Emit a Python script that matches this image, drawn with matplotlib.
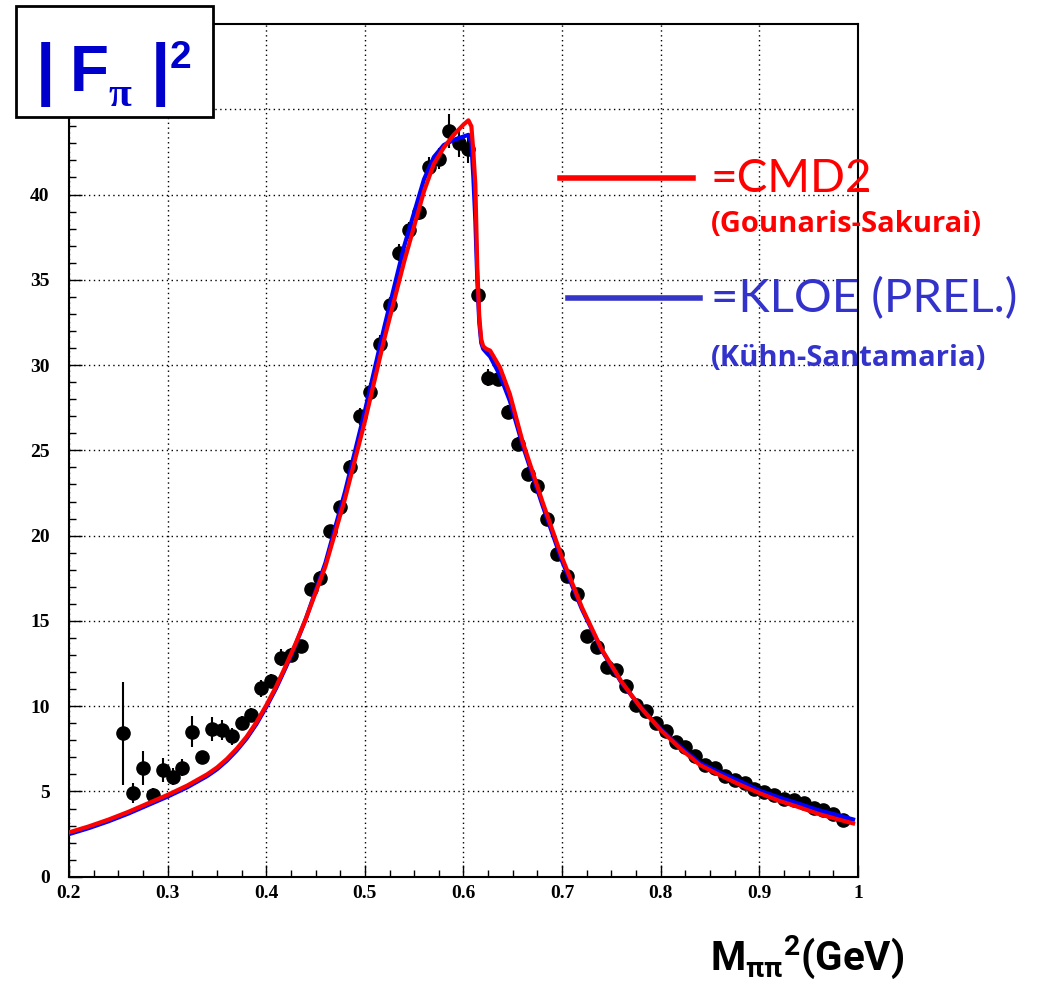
import matplotlib
matplotlib.use("Agg")
import matplotlib.pyplot as plt
from matplotlib.patches import Rectangle
from matplotlib.lines import Line2D
from matplotlib.ticker import MultipleLocator

# measured points
x_data = [0.255, 0.265, 0.275, 0.285, 0.295, 0.305, 0.315, 0.325, 0.335, 0.345,
          0.355, 0.365, 0.375, 0.385, 0.395, 0.405, 0.415, 0.425, 0.435, 0.445,
          0.455, 0.465, 0.475, 0.485, 0.495, 0.505, 0.515, 0.525, 0.535, 0.545,
          0.555, 0.565, 0.575, 0.585, 0.595, 0.605, 0.615, 0.625, 0.635, 0.645,
          0.655, 0.665, 0.675, 0.685, 0.695, 0.705, 0.715, 0.725, 0.735, 0.745,
          0.755, 0.765, 0.775, 0.785, 0.795, 0.805, 0.815, 0.825, 0.835, 0.845,
          0.855, 0.865, 0.875, 0.885, 0.895, 0.905, 0.915, 0.925, 0.935, 0.945,
          0.955, 0.965, 0.975, 0.985]
y_data = [8.4, 4.9, 6.4, 4.8, 6.25, 5.85, 6.4, 8.5, 7.0, 8.65,
          8.6, 8.25, 9.0, 9.5, 11.05, 11.5, 12.85, 13.0, 13.5, 16.85,
          17.5, 20.25, 21.65, 24.05, 27.0, 28.45, 31.25, 33.5, 36.6, 37.9,
          39.0, 41.6, 42.1, 43.7, 43.0, 42.65, 34.1, 29.25, 29.2, 27.25,
          25.4, 23.6, 22.9, 20.95, 18.95, 17.65, 16.55, 14.1, 13.45, 12.3,
          12.15, 11.2, 10.05, 9.7, 9.0, 8.55, 7.9, 7.6, 7.05, 6.55,
          6.35, 5.9, 5.7, 5.5, 5.15, 4.95, 4.8, 4.55, 4.5, 4.3,
          4.05, 3.9, 3.65, 3.3]
y_err = [3.0, 0.6, 1.0, 0.4, 0.7, 0.5, 0.5, 0.9, 0.4, 0.7,
         0.6, 0.5, 0.4, 0.4, 0.5, 0.4, 0.5, 0.4, 0.3, 0.4,
         0.4, 0.4, 0.4, 0.4, 0.5, 0.5, 0.5, 0.5, 0.5, 0.5,
         0.5, 0.6, 0.6, 1.0, 0.8, 0.8, 0.3, 0.5, 0.4, 0.4,
         0.4, 0.4, 0.4, 0.4, 0.4, 0.4, 0.3, 0.3, 0.3, 0.3,
         0.3, 0.3, 0.2, 0.2, 0.2, 0.2, 0.2, 0.2, 0.2, 0.2,
         0.2, 0.2, 0.2, 0.2, 0.2, 0.2, 0.2, 0.2, 0.2, 0.2,
         0.2, 0.2, 0.2, 0.2]

# fit curves
x_curve = [0.20, 0.22, 0.24, 0.26, 0.28, 0.30, 0.32, 0.34, 0.35, 0.36, 0.37,
           0.38, 0.39, 0.40, 0.41, 0.42, 0.43, 0.44, 0.46, 0.48, 0.50, 0.52,
           0.54, 0.56, 0.57, 0.58, 0.59, 0.60, 0.605, 0.608, 0.610, 0.612,
           0.614, 0.616, 0.618, 0.620, 0.623, 0.627, 0.637, 0.647, 0.66, 0.68,
           0.70, 0.72, 0.74, 0.76, 0.78, 0.80, 0.82, 0.84, 0.86, 0.88, 0.90,
           0.92, 0.94, 0.96, 0.98, 0.995]
cmd2 = [2.6, 2.95, 3.35, 3.8, 4.3, 4.8, 5.35, 6.0, 6.4, 6.9, 7.5,
        8.2, 9.05, 10.05, 11.15, 12.4, 13.7, 15.1, 18.2, 22.2, 26.7, 31.6,
        36.1, 40.2, 41.8, 42.75, 43.5, 44.1, 44.35, 44.0, 42.5, 40.6,
        35.7, 32.8, 31.5, 31.1, 30.95, 30.85, 29.86, 28.3, 25.5, 22.0,
        18.7, 15.8, 13.35, 11.45, 9.9, 8.6, 7.5, 6.54, 5.95, 5.4, 4.9,
        4.45, 4.08, 3.68, 3.36, 3.13]
kloe = [2.5, 2.85, 3.25, 3.7, 4.2, 4.7, 5.25, 5.9, 6.3, 6.8, 7.4,
        8.1, 8.95, 9.95, 11.05, 12.3, 13.65, 15.1, 18.4, 22.6, 27.3, 32.3,
        37.0, 40.9, 42.2, 42.9, 43.2, 43.4, 43.5, 43.0, 41.0, 38.5,
        35.0, 32.5, 31.3, 30.95, 30.75, 30.5, 29.4, 27.9, 25.3, 21.8,
        18.5, 15.7, 13.3, 11.4, 9.9, 8.65, 7.6, 6.65, 6.1, 5.6, 5.05,
        4.65, 4.28, 3.9, 3.6, 3.36]

x_ticks = [0.2, 0.3, 0.4, 0.5, 0.6, 0.7, 0.8, 0.9, 1.0]
x_labels = ["0.2", "0.3", "0.4", "0.5", "0.6", "0.7", "0.8", "0.9", "1"]
y_ticks = [0, 5, 10, 15, 20, 25, 30, 35, 40, 45]
y_labels = ["0", "5", "10", "15", "20", "25", "30", "35", "40", ""]  # 45 sits under the title box

plt.rcParams["mathtext.fontset"] = "custom"
plt.rcParams["mathtext.rm"] = "Roboto"
plt.rcParams["mathtext.bf"] = "Roboto:bold"

fig = plt.figure(figsize=(10.39, 9.83), dpi=100)
ax = fig.add_axes([0.0664, 0.1081, 0.7594, 0.8675])

ax.errorbar(x_data, y_data, yerr=y_err, fmt="o", color="black", ms=9.5,
            elinewidth=1.5, capsize=0, zorder=2)
ax.plot(x_curve, kloe, color="#0000ff", lw=3, zorder=3)
ax.plot(x_curve, cmd2, color="#ff0000", lw=3, zorder=4)

ax.set_xlim(0.2, 1.0)
ax.set_ylim(0, 50)
ax.xaxis.set_minor_locator(MultipleLocator(0.025))
ax.yaxis.set_minor_locator(MultipleLocator(1))
ax.set_xticks(x_ticks)
ax.set_xticklabels(x_labels)
ax.set_yticks(y_ticks)
ax.set_yticklabels(y_labels)
ax.tick_params(which="major", direction="in", length=9, width=1, pad=6,
               top=False, right=False)
ax.tick_params(which="minor", direction="in", length=5, width=1,
               top=False, right=False)
ax.tick_params(axis="y", which="major", pad=14)
for lab in ax.get_xticklabels() + ax.get_yticklabels():
    lab.set_fontfamily("Liberation Serif")
    lab.set_fontweight("bold")
    lab.set_fontsize(14)
for sp in ax.spines.values():
    sp.set_linewidth(1.5)
ax.grid(True, which="major", color="black", linestyle=(0, (1, 2.5)), linewidth=1)

# title box
fig.add_artist(Rectangle((16 / 1039, 1 - 117 / 983), 197 / 1039, 111 / 983,
                         transform=fig.transFigure, facecolor="white",
                         edgecolor="black", linewidth=2, zorder=5))
tb = dict(color="#0000cc", fontweight="bold", zorder=6, family="Liberation Sans",
          va="baseline")
fig.text(36 / 1039, 1 - 92 / 983, "|", fontsize=50, **tb)
fig.text(70 / 1039, 1 - 91 / 983, "F", fontsize=46, **tb)
fig.text(108 / 1039, 1 - 106 / 983, "π", fontsize=30, color="#0000cc",
         fontweight="bold", family="Liberation Serif", zorder=6, va="baseline")
fig.text(151 / 1039, 1 - 92 / 983, "|", fontsize=50, **tb)
fig.text(170 / 1039, 1 - 68 / 983, "2", fontsize=28, **tb)

# legend
fig.add_artist(Line2D([560 / 1039, 693 / 1039], [1 - 178 / 983, 1 - 178 / 983],
                      transform=fig.transFigure, color="#ff0000", lw=4))
fig.add_artist(Line2D([568 / 1039, 700 / 1039], [1 - 298 / 983, 1 - 298 / 983],
                      transform=fig.transFigure, color="#3535c8", lw=4))
fig.text(711 / 1039, 1 - 192 / 983, "=CMD2", fontsize=33, color="#ff0000",
         family="Lato", va="baseline")
fig.text(711 / 1039, 1 - 232 / 983, "(Gounaris-Sakurai)", fontsize=21,
         color="#ff0000", fontweight="bold", family="Open Sans", va="baseline")
fig.text(711 / 1039, 1 - 312 / 983, "=KLOE (PREL.)", fontsize=34, color="#3333cc",
         family="Lato", va="baseline")
fig.text(711 / 1039, 1 - 366 / 983, "(Kühn-Santamaria)", fontsize=21,
         color="#3333cc", fontweight="bold", family="Open Sans", va="baseline")

fig.text(710 / 1039, 1 - 970 / 983, r"$\mathbf{M_{\pi\pi}{}^{2}(GeV)}$",
         fontsize=29, color="black", va="baseline")

fig.savefig("out.png", dpi=100)
